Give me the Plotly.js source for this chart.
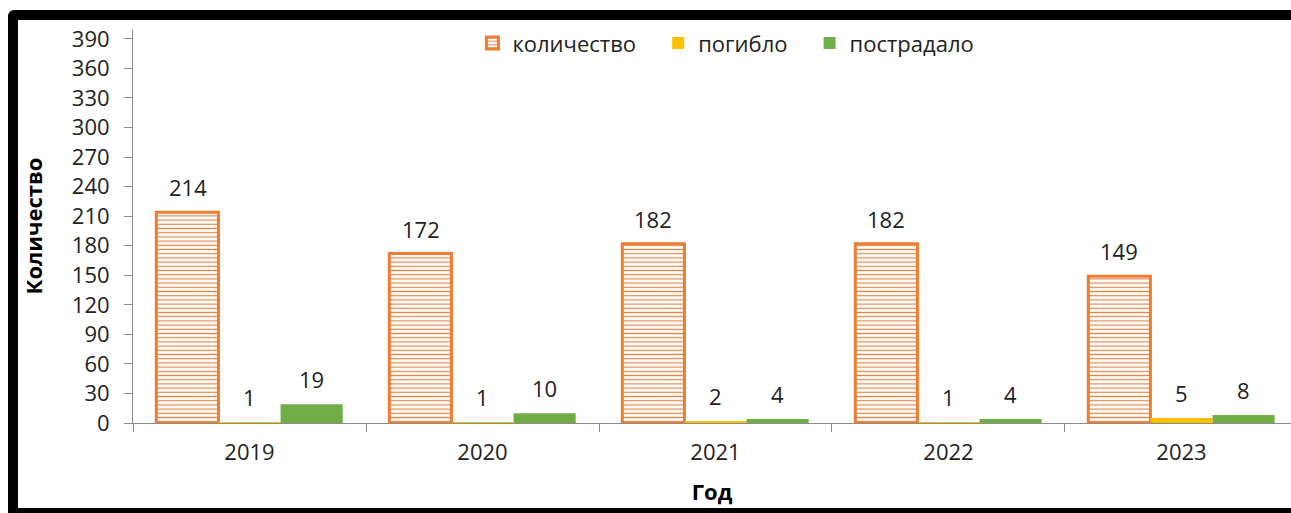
<!DOCTYPE html>
<html>
<head>
<meta charset="utf-8">
<script src="https://cdn.plot.ly/plotly-3.0.1.min.js"></script>
<style>
  html, body { margin: 0; padding: 0; background: #fff; overflow: hidden; }
  #wrap { position: relative; width: 1291px; height: 513px; }
  #chart { position: absolute; left: 0; top: 0; width: 1291px; height: 513px; }
  #frame { position: absolute; left: 8px; top: 10px; width: 1320px; height: 488px;
           border: 10px solid #000; border-radius: 6px; pointer-events: none; box-sizing: content-box; }
</style>
</head>
<body>
<div id="wrap">
  <div id="chart"></div>
  <div id="frame"></div>
</div>
<script>
const years = ['2019', '2020', '2021', '2022', '2023'];
const kolichestvo = [214, 172, 182, 182, 149];
const pogiblo = [1, 1, 2, 1, 5];
const postradalo = [19, 10, 4, 4, 8];
const seriesNames = ['количество', 'погибло', 'пострадало'];
const seriesValues = [kolichestvo, pogiblo, postradalo];

const FONT = 'Open Sans, Noto Sans, sans-serif';
const TXT = '#222222';
const AXIS = '#8c8c8c';
const FS = 22;
const PAD = '&nbsp;&nbsp;&nbsp;';

const traces = [
  {
    type: 'bar', name: seriesNames[0] + PAD, x: years, y: kolichestvo,
    marker: {
      color: '#ffffff',
      line: { color: '#ED7D31', width: 3 },
      pattern: { shape: '-', fgcolor: '#E0884A', bgcolor: '#ffffff', size: 4.2, solidity: 0.3, fillmode: 'replace' }
    },
    hoverinfo: 'skip'
  },
  {
    type: 'bar', name: seriesNames[1] + PAD, x: years, y: pogiblo,
    marker: { color: '#FFC000', line: { width: 0 } },
    hoverinfo: 'skip'
  },
  {
    type: 'bar', name: seriesNames[2], x: years, y: postradalo,
    marker: { color: '#70AD47', line: { width: 0 } },
    hoverinfo: 'skip'
  }
];

const annotations = [];
const barPx = 62;
seriesValues.forEach((vals, i) => {
  vals.forEach((v, j) => {
    annotations.push({
      x: j, y: v, xref: 'x', yref: 'y',
      text: String(v), showarrow: false,
      xshift: (i - 1) * barPx, yshift: 25, yanchor: 'middle',
      font: { family: FONT, size: FS, color: TXT }
    });
  });
});

const layout = {
  width: 1291, height: 513,
  margin: { l: 133, r: 0, t: 29, b: 90 },
  paper_bgcolor: '#ffffff', plot_bgcolor: '#ffffff',
  font: { family: FONT, color: TXT, size: FS },
  barmode: 'group', bargap: 0.2, bargroupgap: 0,
  showlegend: true,
  legend: {
    orientation: 'h', x: 0.512, xanchor: 'center', y: 0.964, yanchor: 'middle',
    bgcolor: 'rgba(0,0,0,0)', font: { family: FONT, size: FS, color: TXT },
    itemwidth: 30, tracegroupgap: 0
  },
  xaxis: {
    type: 'category', range: [-0.5, 4.47], fixedrange: true,
    showline: true, linecolor: AXIS, linewidth: 1,
    ticks: 'outside', tickson: 'boundaries', ticklen: 8, tickcolor: AXIS,
    ticklabelstandoff: 10,
    tickfont: { family: FONT, size: FS, color: TXT },
    showgrid: false, zeroline: false,
    title: { text: '<b>Год</b>', font: { family: FONT, size: FS, color: '#000' }, standoff: 19 }
  },
  yaxis: {
    range: [0, 400], tick0: 0, dtick: 30, fixedrange: true,
    showline: true, linecolor: AXIS, linewidth: 1,
    ticks: 'outside', ticklen: 8, tickcolor: AXIS,
    ticklabelstandoff: 10,
    tickfont: { family: FONT, size: FS, color: TXT },
    showgrid: false, zeroline: false,
    title: { text: '<b>Количество</b>', font: { family: FONT, size: FS, color: '#000' }, standoff: 23 }
  },
  annotations: annotations
};

Plotly.newPlot('chart', traces, layout, { displayModeBar: false, staticPlot: true });
</script>
</body>
</html>
